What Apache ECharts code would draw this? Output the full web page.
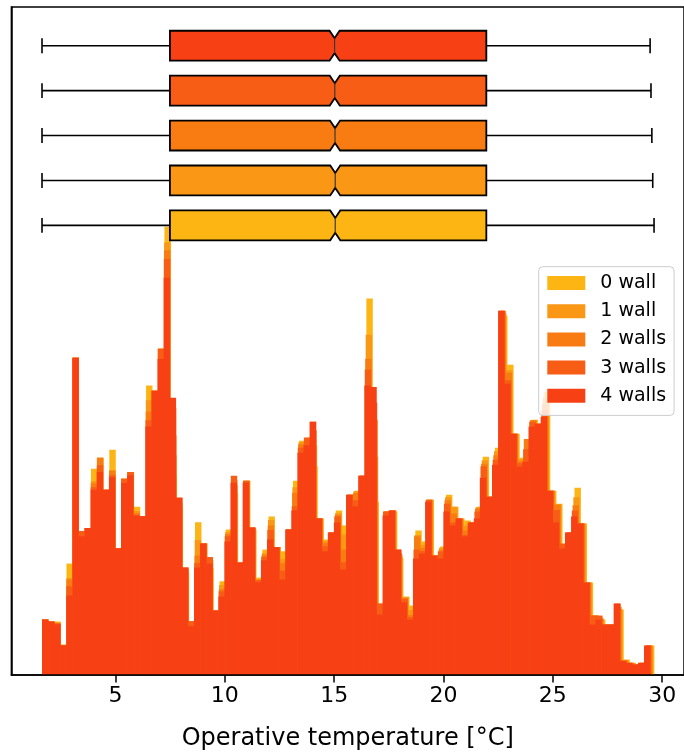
<!DOCTYPE html>
<html><head><meta charset="utf-8">
<script src="https://cdn.jsdelivr.net/npm/echarts@6/dist/echarts.min.js"></script>
<style>html,body{margin:0;padding:0;background:#fff}#chart{width:684px;height:756px}</style>
</head><body><div id="chart"></div>
<script>
// ---------- data ----------
const seriesNames = ['0 wall', '1 wall', '2 walls', '3 walls', '4 walls'];
const colors = ['#FDB514', '#FA9714', '#F97C13', '#F85D16', '#F74114'];
const tempMin = [1.64, 1.64, 1.64, 1.64, 1.64];
const tempMax = [29.63, 29.57, 29.53, 29.49, 29.45];
const nBins = 100;
const xTicks = [5, 10, 15, 20, 25, 30];

// box statistics (°C)
const boxQ1 = [7.49, 7.49, 7.49, 7.49, 7.49];
const boxMedian = [15.05, 15.05, 15.04, 15.03, 15.02];
const boxQ3 = [21.96, 21.96, 21.96, 21.96, 21.96];
const notchHalf = [0.23, 0.23, 0.23, 0.23, 0.23];
const boxPos = [1, 2, 3, 4, 5];

// histogram counts (arbitrary units), 100 bins each
const hist0 = [55.5,53.5,53.5,30.5,111.5,317.5,144,147.2,206.5,217.5,
185.5,225.5,126.8,196.5,203.2,168.5,158.8,289.8,284.5,326.5,
448.5,199.5,166.8,102,53.8,152.8,131.5,107,64.5,93.8,
145.5,182.2,112.5,194.5,145.5,97.5,125.5,158.5,128.2,123.8,
145.5,194.5,234.5,237.5,209,156.5,135.5,142.5,164.5,149.5,
180.5,184.5,199.5,376.8,173.5,70,163.5,163.5,117,78.5,
69.5,144.5,133.5,175.5,119.5,128.5,180.5,168.5,156.5,154.5,
152.5,168.5,218.5,178.5,227.5,359.5,310.5,241.5,217.5,236.2,
255.5,251.5,283.5,184.5,171.5,126.5,142.5,187.5,151.5,92.5,
59.5,55.5,50.5,50.5,65.5,15.5,12.2,10.5,12.2,29.5];
const hist1 = [55.5,53.5,52.5,30.2,97,317.5,144,147.2,194,217.5,
185.5,205,126.8,196.5,203.2,164,158.8,275,284.5,326.5,
432.8,220,172,105,53.8,135,131.5,115,64.5,90,
143,190,112.5,194.5,146.5,96,122,155,128.2,116,
145.5,188,233,237.5,230,156.5,134,142.5,162,140.5,
180.5,184,199.5,340.5,218.5,71,163.5,164.5,120,78,
65,140,130,175.5,119.5,127,178,168.5,156.5,149.5,
152.5,168,215,178.5,224,362,305,241.5,216,236.2,
255,251.5,278,184.5,171,128,142.5,178,151.5,92.5,
59.5,56,50.5,50.5,66,15,12.2,10.5,12.2,29.5];
const hist2 = [55.5,53.5,52,30,95.5,317.5,144,147.2,192,217.5,
185.5,204.5,126.8,196.5,203.2,162,158.8,263.8,284.5,326.5,
425,240,177.5,107.5,53.8,119.5,131.5,118,64.5,86,
141,195,112.5,194.5,147.5,95,120,149.5,128.2,112,
145.5,182.5,231,237.5,245,156.5,132,142.5,160,125.5,
180.5,182.2,199.5,316.5,255.5,71.5,163.5,164.5,122,77,
60,138.8,127,175.5,119.5,125,175,161.5,156.5,144.5,
152.5,166.5,211.5,178.5,220,364.5,302.5,241.5,214,236.2,
255,251.5,271.5,184.5,170.5,130,142.5,170,151.5,92.5,
59.5,57,50.5,50.5,68,14.5,12.2,10.5,12.2,29.5];
const hist3 = [55.5,53.5,51.5,30,88.8,317.5,144,147.2,188,210,
185.5,200,126.8,196.5,203.2,160,158.8,255,284.5,326.5,
416.2,267,177.5,107.5,53.8,112,131.5,118,64.5,83.8,
138.8,199.5,112.5,194.5,147.5,95,118.2,145,128.2,104.5,
145.5,168.8,227.5,237.5,253.5,156.5,128.8,142.5,158.5,112.8,
180.5,175,199.5,305.5,272.5,71.5,163.5,164.5,125.5,76,
58,125.5,124,175.5,119.5,123.5,171.5,152.5,156.5,140,
152.5,163.5,208.8,178.5,215.5,364.5,295,241.5,212,226,
253.5,251.5,265,184.5,165,131.5,142.5,164.5,151.5,92.5,
59.5,59.5,50.5,50.5,71.5,14.2,12.2,10.5,12.2,29.5];
const hist4 = [55.5,53.5,50.8,29.5,79.5,317.5,138.8,147.2,185.5,203.2,
185.5,197.8,126.8,192.2,199.8,159.5,158.8,248.8,284.5,316.2,
397.5,277.5,177.5,107.5,48.8,107.5,131.5,111.5,64.5,78.5,
133.5,192.5,112.5,192.5,147.5,92.8,114.8,135.5,128.2,95.5,
145.5,164.5,222.5,229.8,253.5,156.5,123.8,142.5,152.5,105.5,
180.5,168.8,199.5,289.8,288.2,60.5,159.5,164.5,125.5,72.8,
55.5,116.5,121.5,173.5,119.5,116.5,163.5,149.5,156.5,138.8,
152.5,156.5,197.5,178.5,210.5,364.5,291.5,241.5,208.5,213.5,
248.5,251.5,258.5,184.5,152.5,126.5,142.5,158.5,151.5,92.5,
50.5,55.5,50.5,50.5,71.5,14.2,12.2,10.5,12.2,29.5];
const hists = [hist0, hist1, hist2, hist3, hist4];

// ---------- chart ----------
const FONT = 'DejaVu Sans';
const chart = echarts.init(document.getElementById('chart'), null, {renderer: 'canvas'});

function histData(k) {
  const w = (tempMax[k] - tempMin[k]) / nBins;
  return hists[k].map((v, i) => [tempMin[k] + i * w, tempMin[k] + (i + 1) * w, v]);
}

const histSeries = seriesNames.map((name, k) => ({
  name: name,
  type: 'custom',
  xAxisIndex: 0, yAxisIndex: 0,
  z: 2,
  itemStyle: {color: colors[k]},
  encode: {x: [0, 1], y: 2},
  data: histData(k),
  renderItem: function (params, api) {
    const p0 = api.coord([api.value(0), api.value(2)]);
    const p1 = api.coord([api.value(1), 0]);
    return {
      type: 'rect',
      shape: {x: p0[0], y: p0[1], width: p1[0] - p0[0] + 0.3, height: p1[1] - p0[1]},
      style: {fill: colors[k]}
    };
  }
}));

const boxData = seriesNames.map((n, k) =>
  [boxPos[k], tempMin[k], boxQ1[k], boxMedian[k], boxQ3[k], tempMax[k], notchHalf[k], k]);

const boxSeries = {
  name: 'boxes',
  type: 'custom',
  xAxisIndex: 0, yAxisIndex: 1,
  z: 5,
  data: boxData,
  encode: {x: [1, 5], y: 0},
  renderItem: function (params, api) {
    const pos = api.value(0), lo = api.value(1), q1 = api.value(2), med = api.value(3),
          q3 = api.value(4), hi = api.value(5), nh = api.value(6), k = api.value(7);
    const hb = 1 / 3, hn = 1 / 6, hc = 1 / 6;
    const c = (x, y) => api.coord([x, y]);
    const yc = c(lo, pos)[1];
    const pts = [
      c(q1, pos + hb), c(med - nh, pos + hb), c(med, pos + hn), c(med + nh, pos + hb), c(q3, pos + hb),
      c(q3, pos - hb), c(med + nh, pos - hb), c(med, pos - hn), c(med - nh, pos - hb), c(q1, pos - hb)
    ];
    const lineStyle = {stroke: '#000', lineWidth: 1.6, fill: null};
    return {
      type: 'group',
      children: [
        {type: 'line', shape: {x1: c(lo, pos)[0], y1: yc, x2: c(q1, pos)[0], y2: yc}, style: lineStyle},
        {type: 'line', shape: {x1: c(q3, pos)[0], y1: yc, x2: c(hi, pos)[0], y2: yc}, style: lineStyle},
        {type: 'line', shape: {x1: c(lo, pos)[0], y1: c(lo, pos + hc)[1], x2: c(lo, pos)[0], y2: c(lo, pos - hc)[1]}, style: lineStyle},
        {type: 'line', shape: {x1: c(hi, pos)[0], y1: c(hi, pos + hc)[1], x2: c(hi, pos)[0], y2: c(hi, pos - hc)[1]}, style: lineStyle},
        {type: 'polygon', shape: {points: pts}, style: {fill: colors[k], stroke: '#000', lineWidth: 1.8, lineJoin: 'miter'}},
        {type: 'line', shape: {x1: c(med, pos)[0], y1: c(med, pos + hn)[1], x2: c(med, pos)[0], y2: c(med, pos - hn)[1]},
         style: {stroke: '#3a3a3a', lineWidth: 1.2}}
      ]
    };
  }
};

chart.setOption({
  animation: false,
  backgroundColor: '#fff',
  textStyle: {fontFamily: FONT},
  grid: {left: 11.4, top: 7, width: 674, height: 668.5, show: true,
         borderColor: '#000', borderWidth: 1.5, backgroundColor: 'transparent'},
  legend: {
    data: seriesNames,
    orient: 'vertical',
    left: 538.7, top: 266.7,
    icon: 'rect',
    itemWidth: 38, itemHeight: 14, itemGap: 8.2,
    padding: [6.3, 8, 9.6, 8.6],
    backgroundColor: 'rgba(255,255,255,0.8)',
    borderColor: '#cccccc', borderWidth: 1, borderRadius: 4,
    textStyle: {fontFamily: FONT, fontSize: 19, color: '#000', lineHeight: 20, padding: [0, 0, 0, 10]}
  },
  xAxis: [{
    type: 'value', min: 0.24, max: 31.0, z: 6,
    axisLine: {show: true, onZero: false, lineStyle: {color: '#000', width: 1.5}},
    axisTick: {show: true, length: 7.5, lineStyle: {color: '#000', width: 1.5}, customValues: xTicks},
    axisLabel: {show: true, fontFamily: FONT, fontSize: 22, color: '#000', margin: 10.5, customValues: xTicks},
    splitLine: {show: false},
    name: 'Operative temperature [°C]',
    nameLocation: 'middle', nameGap: 52,
    nameTextStyle: {fontFamily: FONT, fontSize: 24, color: '#000'}
  }],
  yAxis: [{
    type: 'value', min: 0, max: 668.5, z: 6,
    axisLine: {show: true, lineStyle: {color: '#000', width: 1.5}},
    axisTick: {show: false}, axisLabel: {show: false}, splitLine: {show: false}
  }, {
    type: 'value', min: -9.01, max: 5.862, show: false,
    axisLine: {show: false}, axisTick: {show: false}, axisLabel: {show: false}, splitLine: {show: false}
  }],
  series: histSeries.concat([boxSeries])
});
</script>
</body></html>
